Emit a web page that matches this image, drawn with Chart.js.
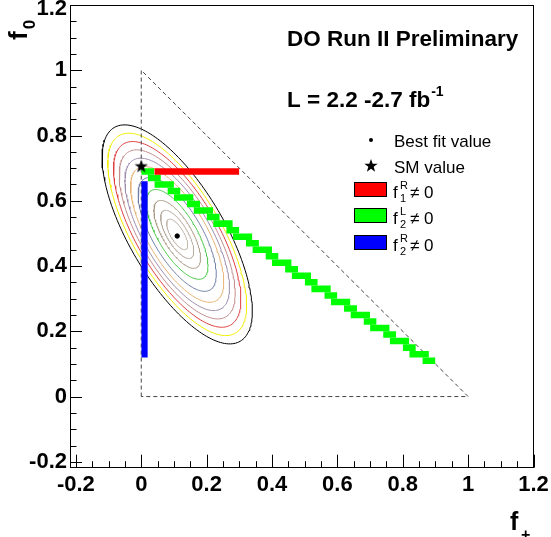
<!DOCTYPE html>
<html>
<head>
<meta charset="utf-8">
<script src="https://cdn.jsdelivr.net/npm/chart.js@4.4.1/dist/chart.umd.min.js"></script>
<style>
  html, body { margin: 0; padding: 0; background: #fff; }
</style>
</head>
<body>
<canvas id="fitChart" width="551" height="537"></canvas>
<script>
// axis range (ROOT frame sits a little outside -0.2)
const axisMin = -0.218;
const axisMax = 1.2;
const majorTicks = [-0.2, 0, 0.2, 0.4, 0.6, 0.8, 1, 1.2];

// best fit and SM point (f+, f0)
const bestFit = [0.11, 0.492];
const smValue = [0, 0.705];

// physical region f+ + f0 <= 1
const triangleX = [0, 0, 1, 0];
const triangleY = [0, 1, 0, 0];

const contourCenter = [0.11, 0.497];
const contourAxes = [0.380, 0.145];   // semi-major / semi-minor of the outer one
const contourTilt = -59.5;            // degrees
const contourScale = [1, 0.924, 0.848, 0.772, 0.696, 0.62, 0.52, 0.41, 0.31, 0.22, 0.14];
const contourColors = ["#000000", "#f2ee00", "#de4040", "#c28c8c", "#9c8cae", "#e6b274",
                       "#6f7fa6", "#46c846", "#a89a86", "#b4aa9c", "#c2b8ac"];

// anomalous coupling bands (0.02 cells)
const redX = [0.04, 0.30], redY = [0.68, 0.70];
const blueX = [0, 0.02], blueY = [0.12, 0.66];
const greenY0 = [0.68, 0.66, 0.64, 0.62, 0.60, 0.58, 0.56, 0.54, 0.52, 0.50,
                 0.48, 0.46, 0.44, 0.42, 0.40, 0.38, 0.36, 0.34, 0.32, 0.30,
                 0.28, 0.26, 0.24, 0.22, 0.20, 0.18, 0.16, 0.14, 0.12, 0.10];
const greenX0 = [0.00, 0.02, 0.04, 0.08, 0.10, 0.14, 0.16, 0.20, 0.22, 0.26,
                 0.28, 0.32, 0.34, 0.38, 0.40, 0.44, 0.46, 0.50, 0.52, 0.56,
                 0.58, 0.62, 0.64, 0.68, 0.70, 0.74, 0.76, 0.80, 0.82, 0.86];
const greenX1 = [0.04, 0.06, 0.10, 0.12, 0.16, 0.18, 0.22, 0.24, 0.28, 0.30,
                 0.34, 0.36, 0.40, 0.42, 0.46, 0.48, 0.52, 0.54, 0.58, 0.60,
                 0.64, 0.66, 0.70, 0.72, 0.76, 0.78, 0.82, 0.84, 0.88, 0.90];

const FONT = "'Liberation Sans', Arial, Helvetica, sans-serif";

function starImage(r) {
    const c = document.createElement("canvas");
    const size = Math.ceil(2 * r + 2);
    c.width = c.height = size;
    const g = c.getContext("2d");
    g.translate(size / 2, size / 2);
    g.beginPath();
    for (let i = 0; i < 10; i++) {
        const rr = i % 2 ? r * 0.4 : r;
        const a = -Math.PI / 2 + i * Math.PI / 5;
        g.lineTo(rr * Math.cos(a), rr * Math.sin(a));
    }
    g.closePath();
    g.fillStyle = "#000";
    g.fill();
    return c;
}
const star = starImage(7);

function box(x0, x1, y0, y1, color) {
    return {
        type: "line",
        data: [{ x: x0, y: y1 }, { x: x1, y: y1 }],
        borderWidth: 0,
        borderColor: color,
        backgroundColor: color,
        pointRadius: 0,
        fill: { value: y0 },
        order: 2
    };
}

function ellipse(s, color) {
    const phi = contourTilt * Math.PI / 180;
    const a = contourAxes[0] * s, b = contourAxes[1] * s;
    const pts = [];
    for (let i = 0; i <= 180; i++) {
        const t = i / 180 * 2 * Math.PI;
        const u = a * Math.cos(t), v = b * Math.sin(t);
        pts.push({
            x: contourCenter[0] + u * Math.cos(phi) - v * Math.sin(phi),
            y: contourCenter[1] + u * Math.sin(phi) + v * Math.cos(phi)
        });
    }
    return { type: "line", data: pts, borderColor: color, borderWidth: 1, pointRadius: 0, fill: false, order: 5 };
}

const datasets = [];
datasets.push({
    type: "line", data: [{ x: smValue[0], y: smValue[1] }], showLine: false,
    pointStyle: star, pointRadius: 7, order: 0
});
datasets.push({
    type: "line", data: [{ x: bestFit[0], y: bestFit[1] }], showLine: false,
    pointStyle: "circle", pointRadius: 2.2, backgroundColor: "#000", borderColor: "#000", order: 1
});
datasets.push(box(redX[0], redX[1], redY[0], redY[1], "#ff0000"));
datasets.push(box(blueX[0], blueX[1], blueY[0], blueY[1], "#0000ff"));
for (let i = 0; i < greenY0.length; i++) {
    datasets.push(box(greenX0[i], greenX1[i], greenY0[i], greenY0[i] + 0.02, "#00ff00"));
}
datasets.push({
    type: "line", data: triangleX.map((x, i) => ({ x: x, y: triangleY[i] })),
    borderColor: "#444", borderWidth: 1, borderDash: [4, 3], pointRadius: 0, fill: false, order: 3
});
contourScale.forEach((s, i) => datasets.push(ellipse(s, contourColors[i])));

// inward ROOT-style ticks + frame
const framePlugin = {
    id: "frame",
    afterDatasetsDraw(chart) {
        const { ctx, chartArea: a, scales: { x, y } } = chart;
        ctx.save();
        ctx.strokeStyle = "#000";
        ctx.lineWidth = 1;
        ctx.strokeRect(Math.round(a.left) + 0.5, Math.round(a.top) + 0.5,
                       Math.round(a.width) - 1, Math.round(a.bottom) - Math.round(a.top) - 1);
        ctx.beginPath();
        for (let k = 0; k <= 28; k++) {
            const v = -0.2 + k * 0.05;
            const major = k % 4 === 0;
            const px = Math.round(x.getPixelForValue(v)) + 0.5;
            ctx.moveTo(px, a.bottom);
            ctx.lineTo(px, a.bottom - (major ? 13 : 6.5));
            const py = Math.round(y.getPixelForValue(v)) + 0.5;
            ctx.moveTo(a.left, py);
            ctx.lineTo(a.left + (major ? 12 : 6.5), py);
        }
        ctx.stroke();
        ctx.restore();
    },
    afterDraw(chart) {
        const ctx = chart.ctx;
        ctx.save();
        ctx.fillStyle = "#000";
        ctx.textBaseline = "alphabetic";
        ctx.textAlign = "left";

        ctx.font = "bold 22.5px " + FONT;
        ctx.fillText("DO Run II Preliminary", 287, 46);
        const lumi = "L = 2.2 -2.7 fb";
        ctx.fillText(lumi, 287, 107);
        const lw = ctx.measureText(lumi).width;
        ctx.font = "bold 14px " + FONT;
        ctx.fillText("-1", 287 + lw + 1, 96);

        // legend
        ctx.beginPath();
        ctx.arc(371, 140, 2, 0, 2 * Math.PI);
        ctx.fill();
        ctx.drawImage(star, 371 - star.width / 2, 166 - star.height / 2);
        ctx.font = "17px " + FONT;
        ctx.fillText("Best fit value", 394, 147);
        ctx.fillText("SM value", 394, 173);

        const rows = [["#ff0000", "R", "1", 182], ["#00ff00", "L", "2", 208], ["#0000ff", "R", "2", 235]];
        rows.forEach(([col, sup, sub, top]) => {
            ctx.fillStyle = col;
            ctx.fillRect(354, top, 33, 15);
            ctx.strokeStyle = "#000";
            ctx.lineWidth = 1;
            ctx.strokeRect(354.5, top + 0.5, 32, 14);
            ctx.fillStyle = "#000";
            const base = top + 16;
            ctx.font = "17px " + FONT;
            ctx.fillText("f", 393, base);
            ctx.font = "11px " + FONT;
            ctx.fillText(sup, 400, base - 9);
            ctx.fillText(sub, 400, base + 4);
            ctx.font = "17px " + FONT;
            ctx.fillText("\u2260 0", 410, base);
        });

        // axis titles
        ctx.font = "bold 25px " + FONT;
        ctx.fillText("f", 510, 530);
        ctx.font = "bold 16px " + FONT;
        ctx.fillText("+", 521, 540);

        ctx.save();
        ctx.translate(27, 40);
        ctx.rotate(-Math.PI / 2);
        ctx.font = "bold 26px " + FONT;
        ctx.fillText("f", 0, 0);
        const fw = ctx.measureText("f").width;
        ctx.font = "bold 17px " + FONT;
        ctx.fillText("0", fw + 2, 8);
        ctx.restore();

        ctx.restore();
    }
};

const tickFont = { family: FONT, weight: "bold", size: 22 };
const topLabel = majorTicks[majorTicks.length - 1];

function noPad(s) {
    s.paddingTop = 0;
    s.paddingBottom = 0;
    s.paddingLeft = 0;
    s.paddingRight = 0;
}

new Chart(document.getElementById("fitChart"), {
    type: "line",
    data: { datasets: datasets },
    options: {
        responsive: false,
        animation: false,
        devicePixelRatio: 1,
        layout: { autoPadding: false, padding: { left: 0, top: 5, right: 17.5, bottom: 0 } },
        plugins: { legend: { display: false }, tooltip: { enabled: false } },
        scales: {
            x: {
                type: "linear", min: axisMin, max: axisMax,
                afterBuildTicks: s => { s.ticks = majorTicks.map(v => ({ value: v })); },
                afterFit: s => { s.height = 69.3; noPad(s); },
                grid: { display: false, drawTicks: false },
                border: { display: false },
                ticks: { font: tickFont, color: "#000", padding: 4, maxRotation: 0, autoSkip: false,
                         callback: v => String(v) }
            },
            y: {
                type: "linear", min: axisMin, max: axisMax,
                afterBuildTicks: s => { s.ticks = majorTicks.map(v => ({ value: v })); },
                afterFit: s => { s.width = 70; noPad(s); },
                grid: { display: false, drawTicks: false },
                border: { display: false },
                ticks: {
                    color: "#000", padding: 3, autoSkip: false,
                    // keep the top label inside the canvas, as ROOT does
                    font: c => (c.tick && c.tick.value === topLabel) ? Object.assign({}, tickFont, { lineHeight: 0.32 }) : tickFont,
                    callback: v => v === topLabel ? ["", String(v)] : String(v)
                }
            }
        }
    },
    plugins: [framePlugin]
});
</script>
</body>
</html>
